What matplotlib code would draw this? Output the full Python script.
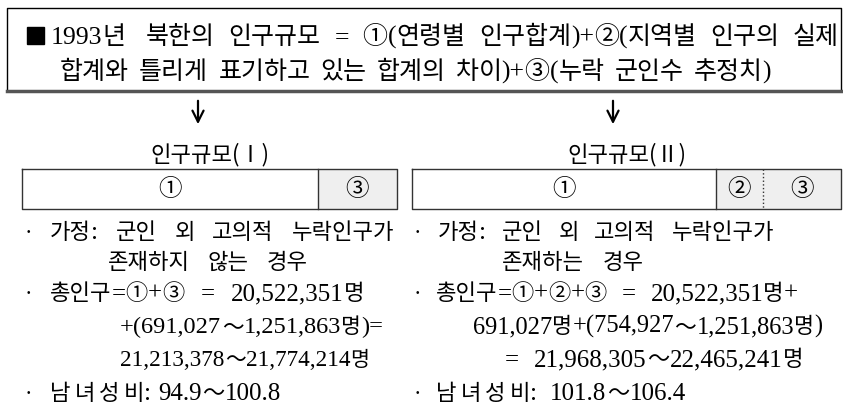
import matplotlib
matplotlib.use("Agg")
import matplotlib.pyplot as plt

KOR = ['Noto Sans CJK KR', 'DejaVu Sans']
LAT = ['Liberation Serif', 'Noto Sans CJK KR', 'DejaVu Sans']
plt.rcParams['font.family'] = LAT

# ---- data ----
header_line1 = "1993년  북한의 인구규모 = ①(연령별 인구합계)+②(지역별 인구의 실제"
header_line2 = "합계와 틀리게 표기하고 있는 합계의 차이)+③(누락 군인수 추정치)"
left_title = "인구규모(Ⅰ)"
right_title = "인구규모(Ⅱ)"
left_segments = ["①", "③"]
left_shares = [296, 79]
right_segments = ["①", "②", "③"]
right_shares = [304, 47, 78]
left_lines = ["가정: 군인 외 고의적 누락인구가",
              "존재하지 않는 경우",
              "총인구=①+③  =  20,522,351명",
              "+(691,027～1,251,863명)=",
              "21,213,378～21,774,214명",
              "남녀성비: 94.9～100.8"]
right_lines = ["가정: 군인 외 고의적 누락인구가",
               "존재하는 경우",
               "총인구=①+②+③  =  20,522,351명+",
               "691,027명+(754,927～1,251,863명)",
               "= 21,968,305～22,465,241명",
               "남녀성비: 101.8～106.4"]
bulleted = [True, False, True, False, False, True]

W, H = 843, 410
fig = plt.figure(figsize=(W / 100, H / 100), dpi=100)
ax = fig.add_axes([0, 0, 1, 1])
ax.set_xlim(0, W)
ax.set_ylim(H, 0)
ax.axis('off')
renderer = fig.canvas.get_renderer()


def char_class(ch):
    o = ord(ch)
    if o == 0xFF5E:
        return 't'
    if (0xAC00 <= o <= 0xD7A3) or (0x2460 <= o <= 0x24FF):
        return 'k'
    return 'l'


def tokens(s, track):
    out = []
    cur, cls, spaces = '', None, 0
    for ch in s:
        if ch == ' ':
            if cur:
                out.append([cur, cls, spaces])
                cur, cls, spaces = '', None, 0
            spaces += 1
            continue
        c = char_class(ch)
        split = cur and (c != cls or c == 't' or (track and c == 'k'))
        if split:
            out.append([cur, cls, spaces])
            cur, spaces = '', 0
        cur += ch
        cls = c
    if cur:
        out.append([cur, cls, spaces])
    return out


def join_gap(prev_cls, cls, track):
    if cls == 't' or prev_cls == 't':
        return 0.5
    if prev_cls == 'k' and cls == 'k':
        return track
    return 0.0


def layout(toks, arts, x0, x1, track, gmin, gmax):
    joins, weights = [], []
    for i, (tok, cls, nsp) in enumerate(toks):
        if i == 0:
            joins.append(0.0); weights.append(0.0)
        elif nsp:
            joins.append(0.0); weights.append(1 + 0.5 * (nsp - 1))
        else:
            joins.append(join_gap(toks[i - 1][1], cls, track)); weights.append(0.0)
    used = sum(w for _, w in arts) + sum(joins)
    gap = 12
    if sum(weights) > 0:
        gap = min(max((x1 - x0 - used) / sum(weights), gmin), gmax)
    total = used + gap * sum(weights)
    return joins, weights, gap, total


def draw_line(x0, x1, yb, s, fk, fl, track=0, gmin=6, gmax=22):
    toks = tokens(s, track)
    arts = []
    for tok, cls, nsp in toks:
        fam = KOR if cls in 'kt' else LAT
        size = fk if cls in 'kt' else fl
        t = ax.text(0, yb, tok, fontsize=size, family=fam, ha='left', va='baseline')
        arts.append((t, t.get_window_extent(renderer).width))
    joins, weights, gap, total = layout(toks, arts, x0, x1, track, gmin, gmax)
    if total > (x1 - x0) + 2:
        # line too long for its box: shrink the type of this line slightly
        k = max((x1 - x0) / total, 0.9)
        new = []
        for t, w in arts:
            t.set_fontsize(t.get_fontsize() * k)
            new.append((t, t.get_window_extent(renderer).width))
        arts = new
        joins, weights, gap, total = layout(toks, arts, x0, x1, track, gmin, gmax)
    x = x0
    for (t, w), j, wt in zip(arts, joins, weights):
        x += j + wt * gap
        t.set_x(x)
        x += w


# header box
ax.plot([7, 7, 841, 841], [92, 9, 9, 92], color='black', lw=1.0)
ax.plot([7, 841], [92, 92], color='#555555', lw=2.5)
ax.add_patch(plt.Rectangle((27, 28), 17, 17, color='black'))
draw_line(51, 839, 44, header_line1, 18, 18.5)
draw_line(60, 771, 79, header_line2, 18, 18.5)

# arrows
for x in (198, 613):
    ax.annotate('', xy=(x, 128), xytext=(x, 99),
                arrowprops=dict(arrowstyle='->', lw=1.6, color='black',
                                mutation_scale=20))

# titles
ax.text(210, 155, left_title, fontsize=16, family=KOR, ha='center', va='center')
ax.text(627, 155, right_title, fontsize=16, family=KOR, ha='center', va='center')


def draw_bar(x0, segments, shares, dotted_after=None):
    left = x0
    edges = []
    for i, (lab, w) in enumerate(zip(segments, shares)):
        ax.barh(190, w, left=left, height=40,
                color='white' if i == 0 else '#efefef', edgecolor='none')
        ax.text(left + w / 2, 190, lab, fontsize=17, family=KOR,
                ha='center', va='center')
        left += w
        edges.append(left)
    ax.plot([x0, left, left, x0, x0], [170, 170, 210, 210, 170],
            color='#333333', lw=1.0)
    for j, e in enumerate(edges[:-1]):
        style = ':' if (dotted_after is not None and j == dotted_after) else '-'
        ax.plot([e, e], [170, 210], color='#333333', lw=1.0, ls=style)


draw_bar(22, left_segments, left_shares)
draw_bar(412, right_segments, right_shares, dotted_after=1)

# bullet texts
ys = [232, 262, 293, 326, 359, 393]
lx0 = [50, 108, 50, 120, 120, 50]
lx1 = [394, 308, 364, 383, 371, 281]
rx0 = [438, 502, 436, 473, 505, 436]
rx1 = [774, 644, 798, 824, 803, 686]
tracks = [0, 0, 0, 0, 0, 4]
fk, fl = 16, 18
for y, a, b_, t, bul, tr in zip(ys, lx0, lx1, left_lines, bulleted, tracks):
    if bul:
        ax.text(28, y + 7, '·', fontsize=15, family=KOR, ha='center', va='baseline')
    draw_line(a, b_, y + 7, t, fk, fl, track=tr)
for y, a, b_, t, bul, tr in zip(ys, rx0, rx1, right_lines, bulleted, tracks):
    if bul:
        ax.text(417, y + 7, '·', fontsize=15, family=KOR, ha='center', va='baseline')
    draw_line(a, b_, y + 7, t, fk, fl, track=tr)

fig.savefig('out.png', dpi=100, facecolor='white')
